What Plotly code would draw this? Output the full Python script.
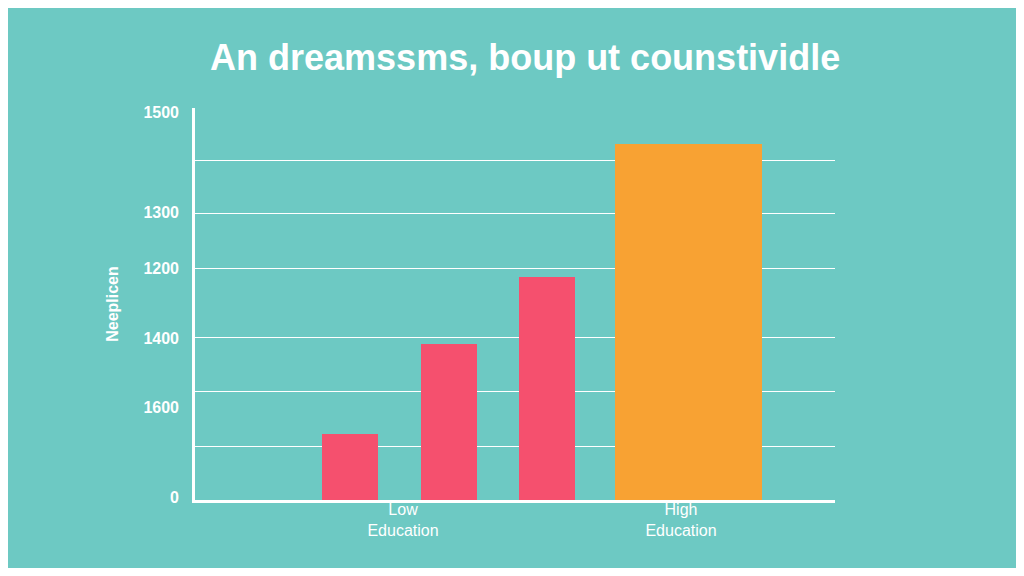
import plotly.graph_objects as go

bar_x = [350, 449, 547, 688.5]
bar_w = [56, 56, 56, 147]
values = [66, 156, 223, 356]
colors = ["#F5506E", "#F5506E", "#F5506E", "#F8A233"]
grid_vals = [54, 109, 163, 232, 287, 340]
label_vals = [388, 288, 232, 162, 93, 3]
label_text = ["<b>1500</b>", "<b>1300</b>", "<b>1200</b>", "<b>1400</b>", "<b>1600</b>", "<b>0</b>"]
cat_x = [403, 681]
cat_text = ["Low<br>Education", "High<br>Education"]

bg = "#6DC9C3"
fig = go.Figure()
fig.add_trace(go.Bar(x=bar_x, y=values, width=bar_w, marker_color=colors, marker_line_width=0))
fig.add_trace(go.Scatter(x=[None], y=[None], yaxis="y2", showlegend=False))
fig.update_layout(
    width=1008, height=560, paper_bgcolor=bg, plot_bgcolor=bg, showlegend=False,
    margin=dict(l=187, r=181, t=100, b=68),
    title=dict(text="<b>An dreamssms, boup ut counstividle</b>", x=0.513, xanchor="center", y=0.935,
               font=dict(family="Liberation Sans", size=36, color="white")),
    xaxis=dict(range=[195, 835], showgrid=False, zeroline=False, showline=True, linecolor="white",
               linewidth=3, tickvals=cat_x, ticktext=cat_text, ticks="", ticklabelstandoff=-7,
               tickfont=dict(family="Liberation Sans", size=16, color="white")),
    yaxis=dict(range=[0, 392], tickvals=grid_vals, showticklabels=False, gridcolor="white",
               gridwidth=1, zeroline=False, showline=True, linecolor="white", linewidth=3,
               title=dict(text="<b>Neeplicen</b>", font=dict(family="Liberation Sans", size=16, color="white"), standoff=70)),
    yaxis2=dict(range=[0, 392], overlaying="y", side="left", tickvals=label_vals, ticktext=label_text,
                showgrid=False, zeroline=False, ticklabelstandoff=15,
                tickfont=dict(family="Liberation Sans", size=16, color="white")),
)
fig.write_html("out.html")
